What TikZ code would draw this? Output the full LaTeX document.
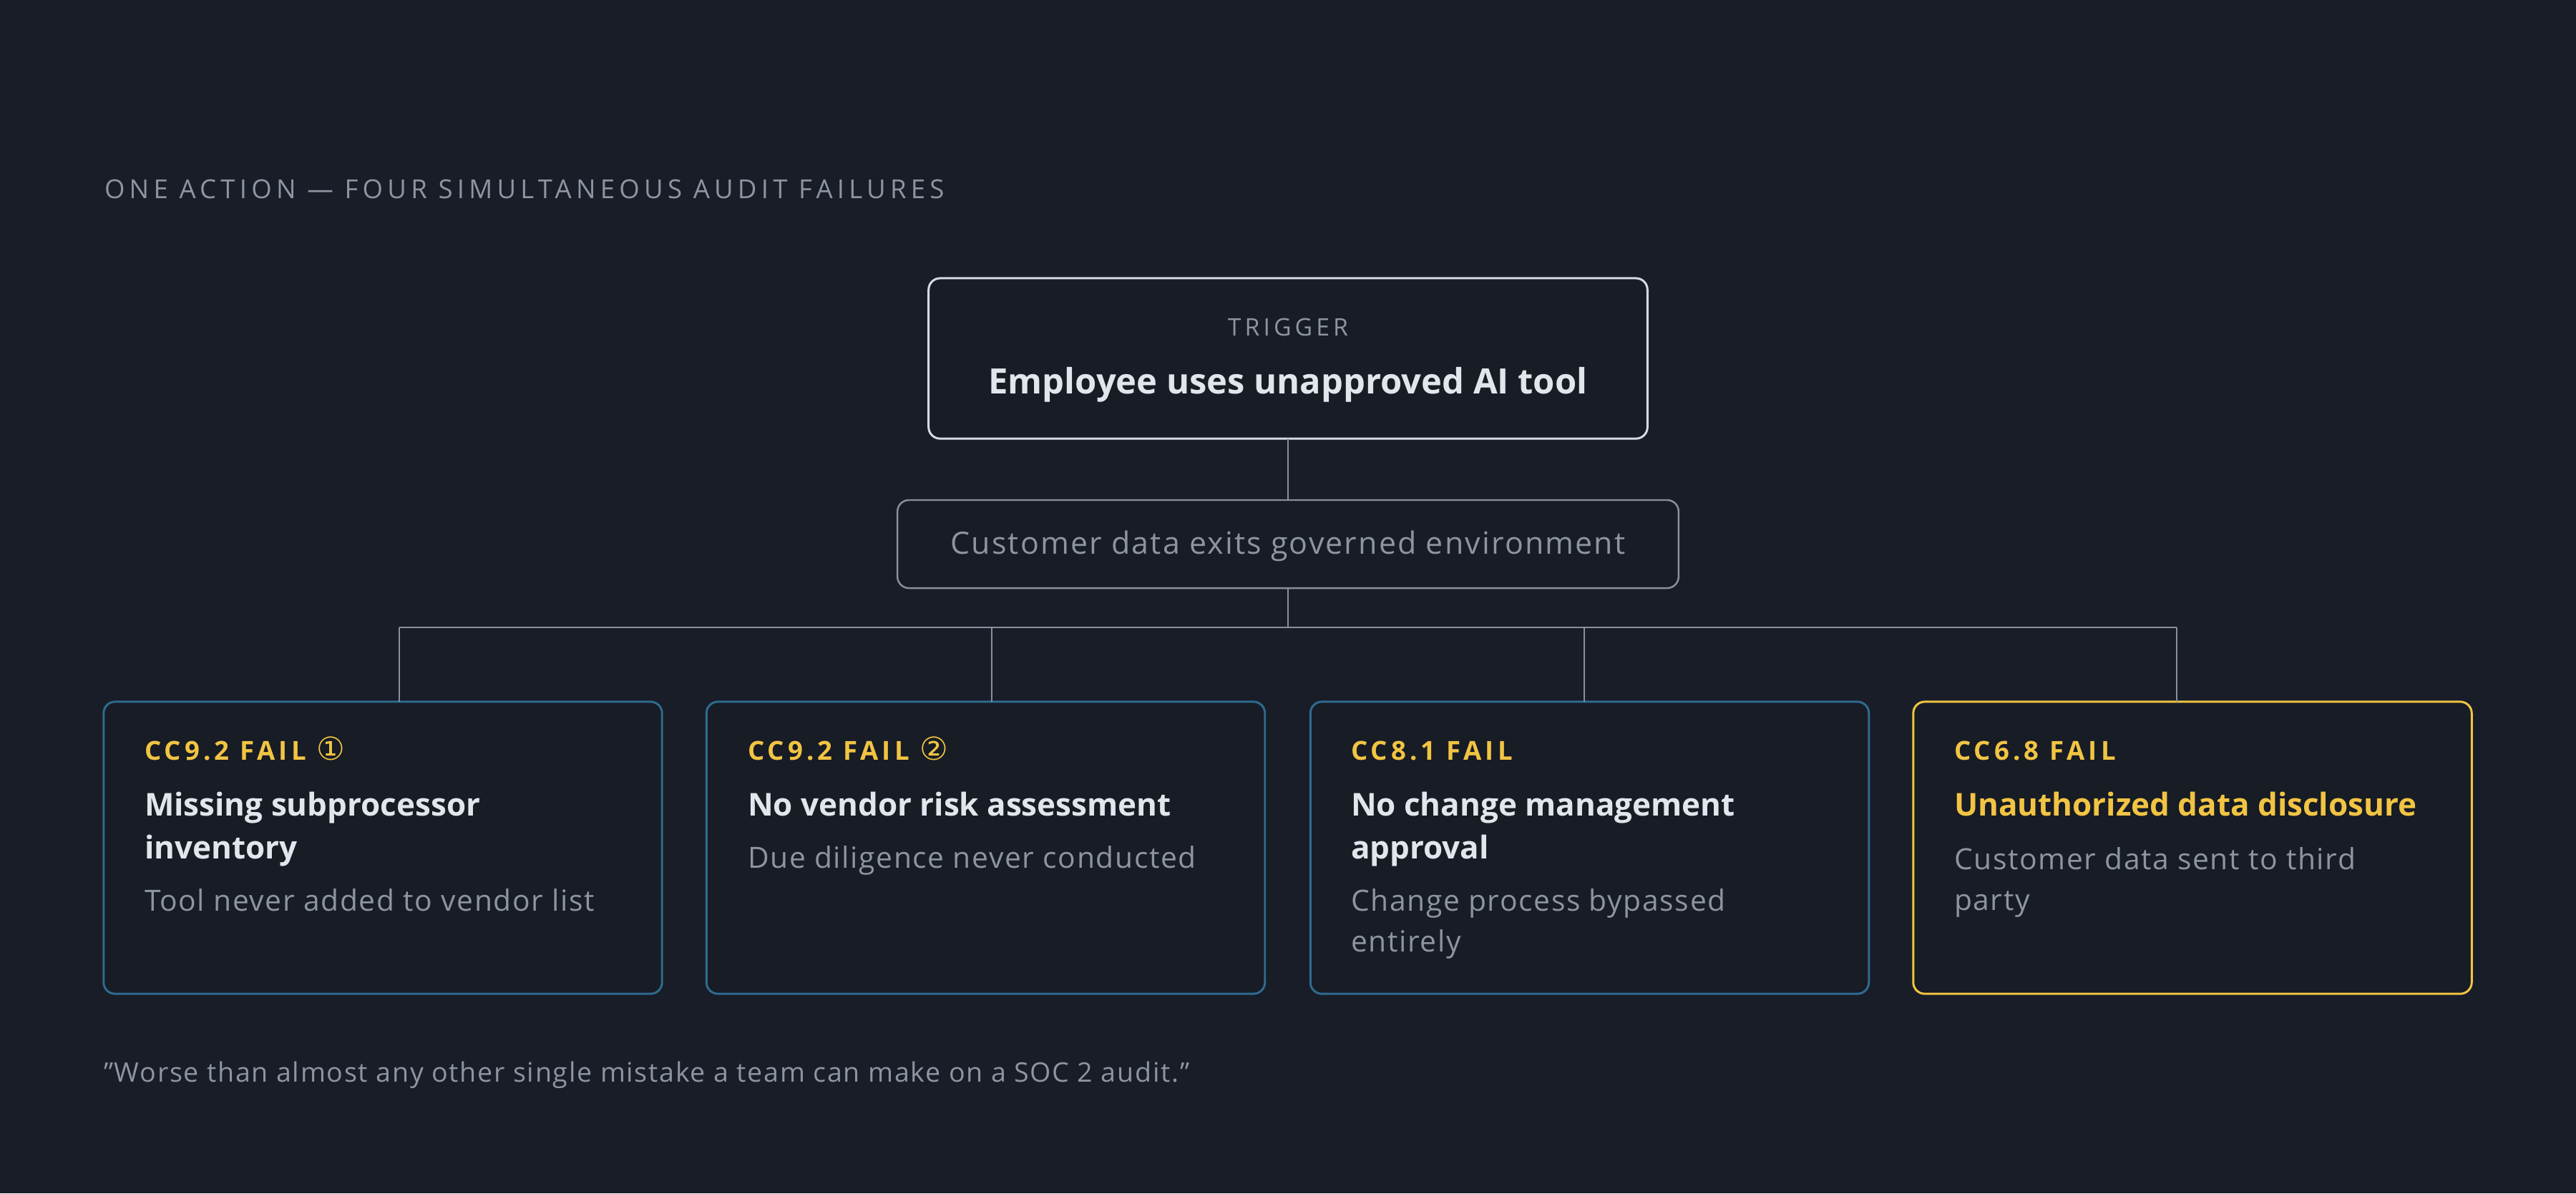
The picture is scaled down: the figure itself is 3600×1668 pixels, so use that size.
\documentclass[tikz,border=0pt]{standalone}
\usepackage{fontspec}
\setmainfont{Open Sans}
\newfontfamily\circfont{DejaVu Sans}
\definecolor{bgcol}{HTML}{181D27}
\definecolor{boxfill}{HTML}{171C25}
\definecolor{trigline}{HTML}{D5DAE4}
\definecolor{wirecol}{HTML}{8A909B}
\definecolor{blueline}{HTML}{2F6B8F}
\definecolor{amber}{HTML}{F2C443}
\definecolor{lighttext}{HTML}{E2E5EC}
\definecolor{greytext}{HTML}{8E95A0}
\newcommand{\circnum}[1]{{\circfont\mdseries\fontsize{12.6}{12}\selectfont #1}}
\begin{document}
\begin{tikzpicture}[x=0.01cm, y=-0.01cm]
      \tikzset{plain/.style={inner sep=0pt, outer sep=0pt},
               trigbox/.style={plain, draw=trigline, fill=boxfill, line width=0.85pt, rounded corners=0.16cm, minimum width=10.04cm, minimum height=2.24cm},
               midbox/.style={plain, draw=wirecol, fill=boxfill, line width=0.7pt, rounded corners=0.16cm, minimum width=10.91cm, minimum height=1.23cm},
               failbox/.style={plain, draw=blueline, fill=boxfill, line width=0.85pt, rounded corners=0.16cm, minimum width=7.8cm, minimum height=4.08cm},
               keybox/.style={failbox, draw=amber},
               wire/.style={draw=wirecol, line width=0.55pt},
               caption/.style={plain, anchor=base west, text=greytext, font=\fontsize{10.4}{12}\selectfont\addfontfeature{LetterSpace=17}},
               trigtag/.style={plain, anchor=base, text=greytext, font=\fontsize{9.6}{12}\selectfont\addfontfeature{LetterSpace=15}},
               trigtext/.style={plain, anchor=base, text=lighttext, font=\fontsize{13.9}{18}\selectfont\bfseries},
               midtext/.style={plain, anchor=base, text=greytext, font=\fontsize{12.2}{14}\selectfont\addfontfeature{LetterSpace=5}},
               tag/.style={plain, anchor=base west, text=amber, font=\fontsize{10.4}{12}\selectfont\bfseries\addfontfeature{LetterSpace=14}},
               head/.style={plain, anchor=base west, align=left, text=lighttext, font=\fontsize{12.5}{17.07}\selectfont\bfseries},
               desc/.style={plain, anchor=base west, align=left, text=greytext, font=\fontsize{11.6}{16.2}\selectfont\addfontfeature{LetterSpace=4}},
               quote/.style={plain, anchor=base west, text=greytext, font=\fontsize{10.7}{12}\selectfont\addfontfeature{LetterSpace=4.5}}}
%% Background
      \fill[bgcol] (0,0) rectangle (3600,1668);
      \node[caption] (title) at (146,277) {ONE ACTION — FOUR SIMULTANEOUS AUDIT FAILURES};
%% Trigger and data exit
      \node[trigbox] (trig) at (1800,501) {};
      \node[trigtag] (trigtag) at (1800,469) {TRIGGER};
      \node[trigtext] (trigtext) at (1800,550) {Employee uses unapproved AI tool};
      \node[midbox] (exit) at (1800,760.5) {};
      \node[midtext] (exittext) at (1800,774) {Customer data exits governed environment};
%% Failure boxes (two-line texts sit on their last baseline)
      \node[failbox] (f1) at (535,1185) {};
      \node[failbox] (f2) at (1377.5,1185) {};
      \node[failbox] (f3) at (2221.5,1185) {};
      \node[keybox] (f4) at (3064,1185) {};
      \node[tag] (t1) at (202,1062) {CC9.2 FAIL \circnum{①}};
      \node[head] (h1) at (202,1200) {Missing subprocessor\\inventory};
      \node[desc] (d1) at (202,1273) {Tool never added to vendor list};
      \node[tag] (t2) at (1045,1062) {CC9.2 FAIL \circnum{②}};
      \node[head] (h2) at (1045,1140) {No vendor risk assessment};
      \node[desc] (d2) at (1045,1213) {Due diligence never conducted};
      \node[tag] (t3) at (1888,1062) {CC8.1 FAIL};
      \node[head] (h3) at (1888,1200) {No change management\\approval};
      \node[desc] (d3) at (1888,1330) {Change process bypassed\\entirely};
      \node[tag] (t4) at (2731,1062) {CC6.8 FAIL};
      \node[head, text=amber] (h4) at (2731,1140) {Unauthorized data disclosure};
      \node[desc] (d4) at (2731,1272) {Customer data sent to third\\party};
%% Connectors
      \coordinate (jn) at (1800,877);
      \coordinate (b1) at (558,877);
      \coordinate (b2) at (1386,877);
      \coordinate (b3) at (2214,877);
      \coordinate (b4) at (3042,877);
      \path[wire] (trig) -- (exit);
      \path[wire] (exit) -- (jn);
      \path[wire] (b1) -- (b4);
      \path[wire] (b1) -- (f1.north -| b1);
      \path[wire] (b2) -- (f2.north -| b2);
      \path[wire] (b3) -- (f3.north -| b3);
      \path[wire] (b4) -- (f4.north -| b4);
%% Footer
      \node[quote] (quote) at (145,1512) {”Worse than almost any other single mistake a team can make on a SOC 2 audit.”};
\end{tikzpicture}
\end{document}
